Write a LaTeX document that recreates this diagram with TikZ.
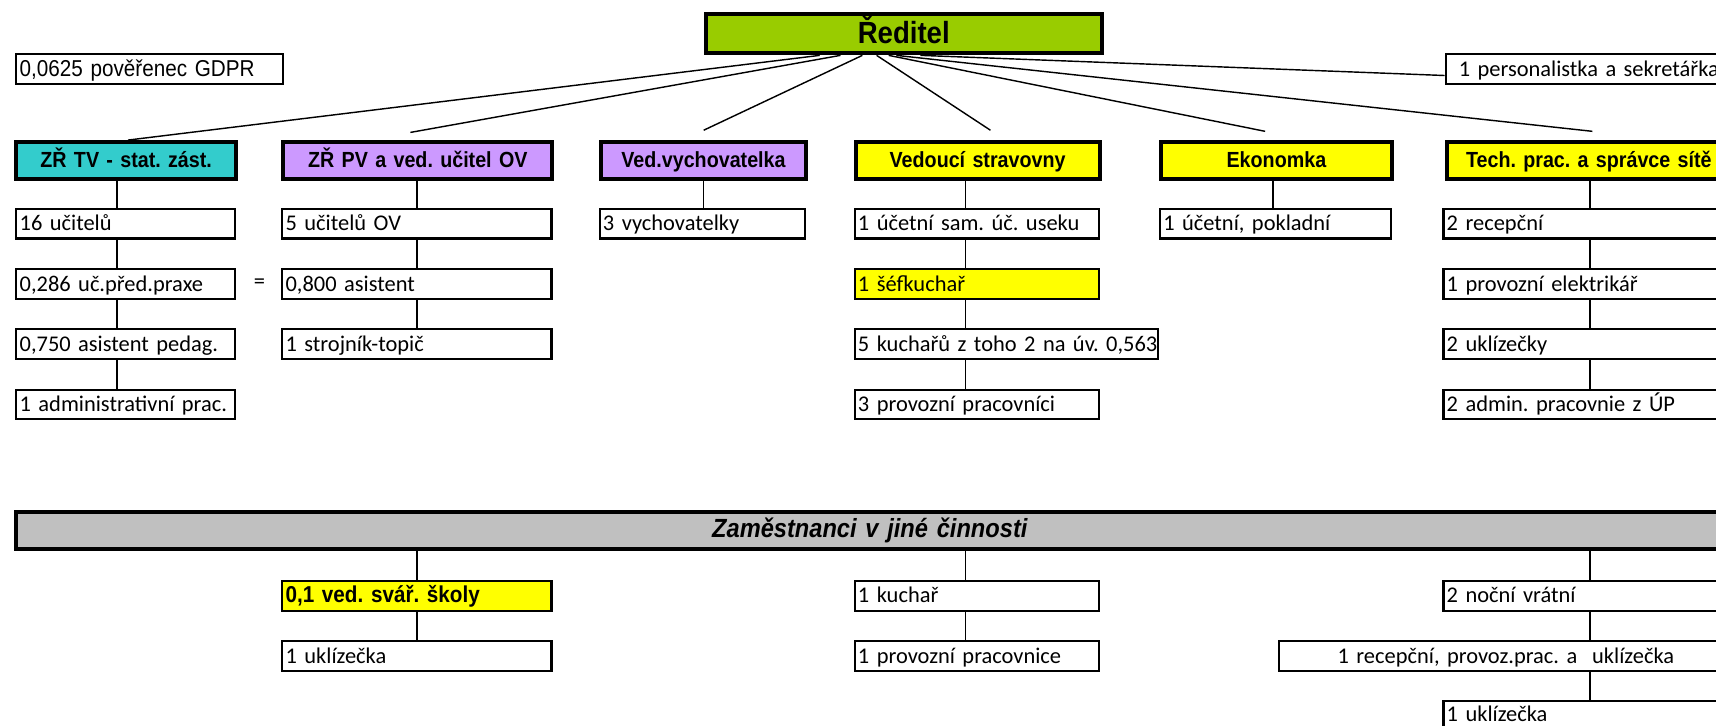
\documentclass[tikz,border=0pt]{standalone}
\usepackage{fontspec}
\setmainfont{Carlito}
\newfontfamily\arialc[FakeStretch=0.9]{Liberation Sans}
\usetikzlibrary{calc}
\definecolor{cGreen}{HTML}{99CC00}
\definecolor{cCyan}{HTML}{33CCCC}
\definecolor{cLav}{HTML}{CC99FF}
\definecolor{cYel}{HTML}{FFFF00}
\definecolor{cGray}{HTML}{C0C0C0}
\tikzset{
  cell/.style={draw, line width=1.9pt, inner xsep=3pt, inner ysep=0pt, align=left,
    text height=16.5pt, text depth=3.5pt, font=\fontsize{20.5}{24}\selectfont},
  hdr/.style={draw, line width=3.6pt, inner xsep=3pt, inner ysep=0pt, align=center,
    text height=16pt, text depth=3pt, font=\arialc\bfseries\fontsize{20}{24}\selectfont},
  conn/.style={line width=1.3pt},
}
\newcommand\orgbox[7]{%
  \pgfmathsetmacro\obw{#4-#2}%
  \pgfmathsetmacro\obh{#5-#3}%
  \pgfmathsetmacro\obt{#4-#2-6}%
  \node[#6, anchor=north west, minimum width=\obw pt, minimum height=\obh pt, text width=\obt pt] (#1) at (#2,#3) {\mbox{#7}};}
\begin{document}
\frenchspacing
\begin{tikzpicture}[x=1pt,y=-1pt]
\useasboundingbox (0,0) rectangle (1568,662.5);
\clip (0,0) rectangle (1568,662.5);
% top
\orgbox{dir}{643}{11}{1005}{47}{hdr, fill=cGreen, text height=21pt, text depth=4pt, font=\arialc\bfseries\fontsize{28}{30}\selectfont}{Ředitel}
\orgbox{gdpr}{14}{48}{258}{76}{cell, font=\arialc\fontsize{21}{24}\selectfont}{0,0625 pověřenec GDPR}
\orgbox{pers}{1320}{48}{1582}{76}{cell}{\hspace{9pt}1 personalistka a sekretářka}
% headers
\orgbox{h1}{13}{128}{214}{162}{hdr, fill=cCyan}{ZŘ TV - stat. zást.}
\orgbox{h2}{257}{128}{503}{162}{hdr, fill=cLav}{ZŘ PV a ved. učitel OV}
\orgbox{h3}{547}{128}{735}{162}{hdr, fill=cLav}{Ved.vychovatelka}
\orgbox{h4}{780}{128}{1003}{162}{hdr, fill=cYel}{Vedoucí stravovny}
\orgbox{h5}{1059}{128}{1270}{162}{hdr, fill=cYel}{Ekonomka}
\orgbox{h6}{1320}{128}{1580}{162}{hdr, fill=cYel}{Tech. prac. a správce sítě}
% column A
\orgbox{a1}{14}{190}{214}{217}{cell}{16 učitelů}
\orgbox{a2}{14}{245}{214}{272}{cell}{0,286 uč.před.praxe}
\orgbox{a3}{14}{300}{214}{327}{cell}{0,750 asistent pedag.}
\orgbox{a4}{14}{355}{214}{382}{cell}{1 administrativní prac.}
\node[font=\fontsize{20.5}{24}\selectfont] (eq) at (237,259) {=};
% column B
\orgbox{b1}{257}{190}{503}{217}{cell}{5 učitelů OV}
\orgbox{b2}{257}{245}{503}{272}{cell}{0,800 asistent}
\orgbox{b3}{257}{300}{503}{327}{cell}{1 strojník-topič}
% column C
\orgbox{c1}{547}{190}{735}{217}{cell}{3 vychovatelky}
% column D
\orgbox{d1}{780}{190}{1003}{217}{cell}{1 účetní sam. úč. useku}
\orgbox{d2}{780}{245}{1003}{272}{cell, fill=cYel}{1 šéfkuchař}
\orgbox{d3}{780}{300}{1057}{327}{cell}{5 kuchařů z toho 2 na úv. 0,563}
\orgbox{d4}{780}{355}{1003}{382}{cell}{3 provozní pracovníci}
% column E
\orgbox{e1}{1059}{190}{1270}{217}{cell}{1 účetní, pokladní}
% column F
\orgbox{f1}{1318}{190}{1582}{217}{cell}{2 recepční}
\orgbox{f2}{1318}{245}{1582}{272}{cell}{1 provozní elektrikář}
\orgbox{f3}{1318}{300}{1582}{327}{cell}{2 uklízečky}
\orgbox{f4}{1318}{355}{1582}{382}{cell}{2 admin. pracovnie z ÚP}
% bottom
\orgbox{band}{13}{466}{1573}{500}{hdr, fill=cGray, font=\arialc\bfseries\itshape\fontsize{24}{26}\selectfont}{Zaměstnanci v jiné činnosti}
\orgbox{g1}{257}{530}{503}{557}{cell, fill=cYel, font=\arialc\bfseries\fontsize{21}{24}\selectfont}{0,1 ved. svář. školy}
\orgbox{g2}{257}{585}{503}{612}{cell}{1 uklízečka}
\orgbox{k1}{780}{530}{1003}{557}{cell}{1 kuchař}
\orgbox{k2}{780}{585}{1003}{612}{cell}{1 provozní pracovnice}
\orgbox{m1}{1318}{530}{1582}{557}{cell}{2 noční vrátní}
\orgbox{m2}{1168}{585}{1582}{612}{cell, align=center}{1 recepční, provoz.prac. a\ \ uklízečka}
\orgbox{m3}{1318}{640}{1582}{664.5}{cell}{1 uklízečka}
% column coordinates
\coordinate (colA) at (107,0);
\coordinate (colB) at (381,0);
\coordinate (colC) at (643,0);
\coordinate (colD) at (882,0);
\coordinate (colE) at (1163,0);
\coordinate (colF) at (1453,0);
% vertical connectors
\draw[conn] (h1.south -| colA) -- (a1.north -| colA)
            (a1.south -| colA) -- (a2.north -| colA)
            (a2.south -| colA) -- (a3.north -| colA)
            (a3.south -| colA) -- (a4.north -| colA);
\draw[conn] (h2.south -| colB) -- (b1.north -| colB)
            (b1.south -| colB) -- (b2.north -| colB)
            (b2.south -| colB) -- (b3.north -| colB);
\draw[conn] (h3.south -| colC) -- (c1.north -| colC);
\draw[conn] (h4.south -| colD) -- (d1.north -| colD)
            (d1.south -| colD) -- (d2.north -| colD)
            (d2.south -| colD) -- (d3.north -| colD)
            (d3.south -| colD) -- (d4.north -| colD);
\draw[conn] (h5.south -| colE) -- (e1.north -| colE);
\draw[conn] (h6.south -| colF) -- (f1.north -| colF)
            (f1.south -| colF) -- (f2.north -| colF)
            (f2.south -| colF) -- (f3.north -| colF)
            (f3.south -| colF) -- (f4.north -| colF);
\draw[conn] (band.south -| colB) -- (g1.north -| colB)
            (g1.south -| colB) -- (g2.north -| colB);
\draw[conn] (band.south -| colD) -- (k1.north -| colD)
            (k1.south -| colD) -- (k2.north -| colD);
\draw[conn] (band.south -| colF) -- (m1.north -| colF)
            (m1.south -| colF) -- (m2.north -| colF)
            (m2.south -| colF) -- (m3.north -| colF);
% fan from director
\coordinate (s1) at (749,0);  \coordinate (t1) at (117,128);
\coordinate (s2) at (768,0);  \coordinate (t2) at (375,121);
\coordinate (s3) at (788,0);  \coordinate (t3) at (643,119);
\coordinate (s4) at (801,0);  \coordinate (t4) at (905,119);
\coordinate (s5) at (812,0);  \coordinate (t5) at (1156,120);
\coordinate (s6) at (819,0);  \coordinate (t6) at (1455,120);
\coordinate (s7) at (841,0);  \coordinate (t7) at (1320,69);
\draw[conn] (dir.south -| s1) -- (h1.north -| t1);
\draw[conn] (dir.south -| s2) -- (t2);
\draw[conn] (dir.south -| s3) -- (t3);
\draw[conn] (dir.south -| s4) -- (t4);
\draw[conn] (dir.south -| s5) -- (t5);
\draw[conn] (dir.south -| s6) -- (t6);
\draw[conn] (dir.south -| s7) -- (pers.west |- t7);
\end{tikzpicture}
\end{document}
